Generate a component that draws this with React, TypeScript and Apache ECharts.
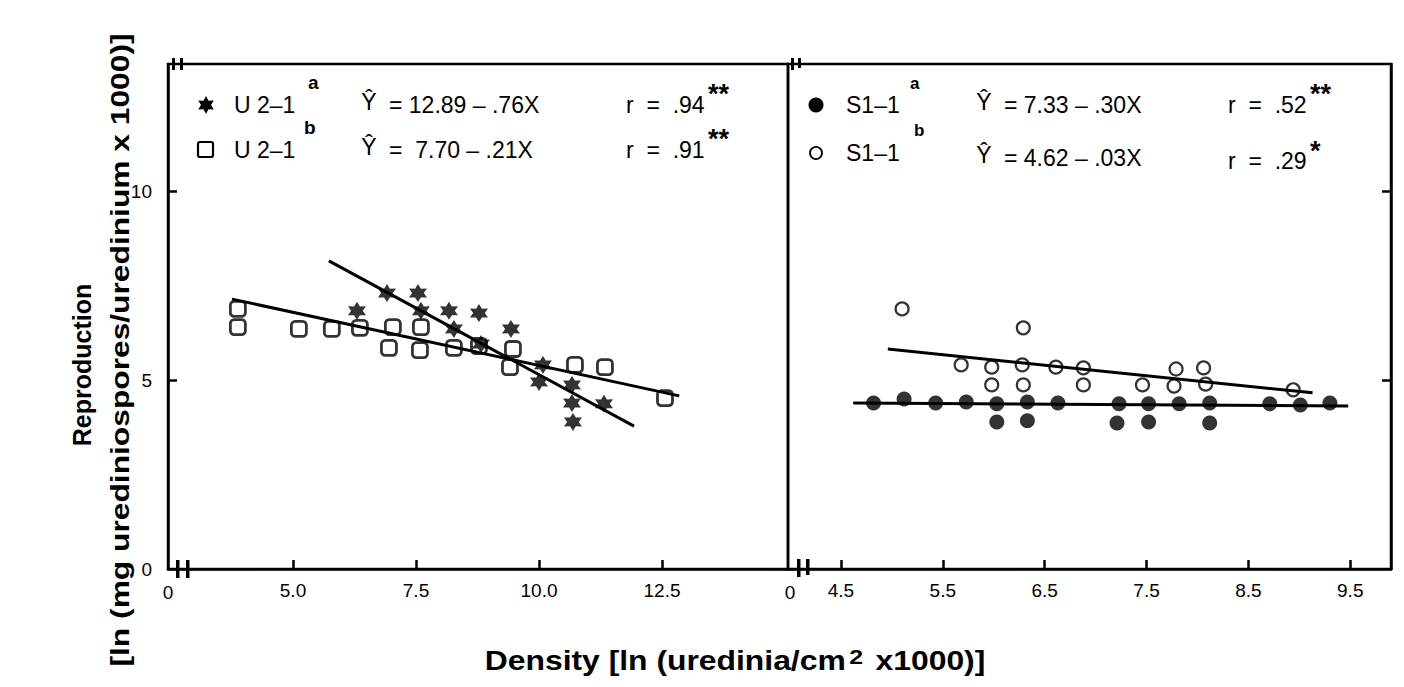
import React, { useEffect, useRef } from "react";
import * as echarts from "echarts";

// ---- axis ticks / labels ----
const leftXTicks = [5, 7.5, 10, 12.5];
const rightXTicks = [4.5, 5.5, 6.5, 7.5, 8.5, 9.5];
const yTickValues = [5, 10];
const yLabelValues = [0, 5, 10];

// ---- left panel: U 2-1 a (stars) ----
const u21aX = [6.3, 6.91, 7.54, 7.6, 8.17, 8.78, 8.27, 8.82, 9.43, 10.08, 10.0, 10.67, 10.67, 10.69, 11.32];
const u21aY = [6.83, 7.3, 7.3, 6.83, 6.83, 6.77, 6.35, 5.95, 6.35, 5.4, 4.95, 4.87, 4.39, 3.89, 4.37];
// ---- left panel: U 2-1 b (open squares) ----
const u21bX = [3.88, 3.88, 5.12, 5.79, 6.36, 7.03, 7.6, 6.95, 7.58, 8.27, 8.78, 9.47, 9.41, 10.73, 11.34, 12.56];
const u21bY = [6.88, 6.4, 6.35, 6.35, 6.38, 6.4, 6.4, 5.85, 5.79, 5.85, 5.9, 5.82, 5.34, 5.4, 5.34, 4.52];
// fitted lines (end points)
const u21aFitX = [5.73, 11.93];
const u21aFitY = [8.15, 3.78];
const u21bFitX = [3.76, 12.85];
const u21bFitY = [7.14, 4.58];

// ---- right panel: S1-1 a (filled circles) ----
const s11aX = [4.82, 5.12, 5.43, 5.73, 6.03, 6.33, 6.63, 7.23, 7.52, 7.82, 8.12, 8.71, 9.01, 9.3, 6.03, 6.33, 7.21, 7.52, 8.12];
const s11aY = [4.39, 4.5, 4.39, 4.42, 4.37, 4.42, 4.39, 4.37, 4.37, 4.37, 4.39, 4.37, 4.34, 4.39, 3.89, 3.92, 3.86, 3.89, 3.86];
// ---- right panel: S1-1 b (open circles) ----
const s11bX = [5.1, 6.29, 5.68, 5.98, 6.28, 6.61, 6.88, 5.98, 6.29, 6.88, 7.46, 7.79, 8.06, 7.77, 8.08, 8.94];
const s11bY = [6.88, 6.38, 5.4, 5.34, 5.4, 5.34, 5.32, 4.87, 4.87, 4.87, 4.87, 5.29, 5.32, 4.84, 4.89, 4.74];
const s11aFitX = [4.62, 9.48];
const s11aFitY = [4.39, 4.31];
const s11bFitX = [4.96, 9.13];
const s11bFitY = [5.82, 4.66];

const zip = (xs: number[], ys: number[]) => xs.map((x, i) => [x, ys[i]]);

function starPoints(cx: number, cy: number, R: number, r: number): number[][] {
  const pts: number[][] = [];
  for (let i = 0; i < 12; i++) {
    const a = -Math.PI / 2 + (i * Math.PI) / 6;
    const rad = i % 2 === 0 ? R : r;
    pts.push([cx + rad * Math.cos(a), cy + rad * Math.sin(a)]);
  }
  return pts;
}
const starPath =
  "path://" +
  starPoints(10, 10, 10, 5.6)
    .map((p, i) => (i === 0 ? "M" : "L") + p[0].toFixed(2) + " " + p[1].toFixed(2))
    .join(" ") +
  " Z";

const FONT = "Liberation Sans";
const G = { left: 168, top: 64, h: 505, lw: 620, rw: 603 };

export default function App() {
  const ref = useRef<HTMLDivElement>(null);
  useEffect(() => {
    if (!ref.current) return;
    const chart = echarts.init(ref.current, null, { renderer: "svg" });
    const black = "#000";
    const txt = (text: string, x: number, y: number, size = 23, extra: any = {}) => ({
      type: "text",
      x,
      y,
      style: { text, fill: black, font: `${extra.weight || "normal"} ${size}px "${FONT}"`, textAlign: extra.align || "left", textVerticalAlign: "middle" },
      ...(extra.rotation !== undefined ? { rotation: extra.rotation } : {}),
      ...(extra.scaleX !== undefined ? { scaleX: extra.scaleX } : {}),
    });
    const bar = (x: number, y: number, w: number, h: number) => ({
      type: "rect",
      shape: { x, y, width: w, height: h },
      style: { fill: black },
    });

    const L1 = 105, L2 = 150, R1 = 105, R2 = 158;
    const graphics: any[] = [
      // legend left
      { type: "polygon", shape: { points: starPoints(206, L1, 9, 5) }, style: { fill: black } },
      txt("U 2\u20131", 234, L1),
      txt("a", 308, L1 - 23, 19, { weight: "bold" }),
      txt("\u0176", 369, L1 - 3, 23, { align: "center" }),
      txt("= 12.89 \u2013 .76X", 389, L1),
      txt("r  =  .94", 626, L1),
      txt("**", 708, L1 - 11, 27, { weight: "bold" }),
      { type: "rect", shape: { x: 198, y: L2 - 8, width: 15, height: 15, r: 2 }, style: { fill: "none", stroke: black, lineWidth: 2.2 } },
      txt("U 2\u20131", 234, L2),
      txt("b", 304, L2 - 23, 19, { weight: "bold" }),
      txt("\u0176", 369, L2 - 3, 23, { align: "center" }),
      txt("=  7.70 \u2013 .21X", 389, L2),
      txt("r  =  .91", 626, L2),
      txt("**", 708, L2 - 11, 27, { weight: "bold" }),
      // legend right
      { type: "circle", shape: { cx: 816, cy: R1, r: 7.5 }, style: { fill: black } },
      txt("S1\u20131", 846, R1),
      txt("a", 910, R1 - 22, 17, { weight: "bold" }),
      txt("\u0176", 984, R1 - 3, 23, { align: "center" }),
      txt("= 7.33 \u2013 .30X", 1004, R1),
      txt("r  =  .52", 1228, R1),
      txt("**", 1310, R1 - 11, 27, { weight: "bold" }),
      { type: "circle", shape: { cx: 816, cy: R2 - 5, r: 6 }, style: { fill: "none", stroke: black, lineWidth: 1.8 } },
      txt("S1\u20131", 846, R2 - 5),
      txt("b", 914, R2 - 28, 17, { weight: "bold" }),
      txt("\u0176", 984, R2 - 3, 23, { align: "center" }),
      txt("= 4.62 \u2013 .03X", 1004, R2),
      txt("r  =  .29", 1228, R2 + 3),
      txt("*", 1310, R2 - 7, 27, { weight: "bold" }),
      // axis-break "0" labels
      txt("0", 168, 592, 19, { align: "center" }),
      txt("0", 790, 592, 19, { align: "center" }),
      // break marks
      bar(176, 560, 3.5, 18), bar(186, 560, 3.5, 18),
      bar(797, 559, 3.5, 18), bar(806, 559, 3.5, 16),
      bar(172, 58, 3, 12), bar(180, 58, 3, 12),
      bar(791, 58, 3, 12), bar(798, 58, 3, 10),
      // axis titles
      {
        type: "text",
        x: 735,
        y: 660,
        scaleX: 1.18,
        style: {
          text: "{a|Density [ln (uredinia/cm}{s|2}{a| x1000)]}",
          textAlign: "center",
          textVerticalAlign: "middle",
          fill: black,
          rich: {
            a: { fontSize: 27, fontWeight: "bold", fontFamily: FONT, fill: black },
            s: { fontSize: 21, fontWeight: "bold", fontFamily: FONT, fill: black, verticalAlign: "top", padding: [0, 3, 0, 3] },
          },
        },
      },
      txt("Reproduction", 82, 365, 25, { weight: "bold", align: "center", rotation: Math.PI / 2, scaleX: 1.0 }),
      txt("[ln (mg urediniospores/uredinium x 1000)]", 120, 350, 25, { weight: "bold", align: "center", rotation: Math.PI / 2, scaleX: 1.27 }),
    ];

    const axisLine = { show: true, lineStyle: { color: black, width: 2.5 } };
    const tick = (vals: number[]) => ({ show: true, inside: true, length: 9, customValues: vals, lineStyle: { color: black, width: 2.5 } });
    const line = (xs: number[], ys: number[], xi: number) => ({
      type: "line",
      xAxisIndex: xi,
      yAxisIndex: xi,
      data: zip(xs, ys),
      showSymbol: false,
      symbol: "none",
      lineStyle: { color: black, width: 3 },
      z: 2,
    });

    chart.setOption({
      animation: false,
      backgroundColor: "#fff",
      grid: [
        { left: G.left, top: G.top, width: G.lw, height: G.h, show: true, borderColor: black, borderWidth: 2.5, backgroundColor: "transparent" },
        { left: G.left + G.lw, top: G.top, width: G.rw, height: G.h, show: true, borderColor: black, borderWidth: 2.5, backgroundColor: "transparent" },
      ],
      xAxis: [
        {
          type: "value", gridIndex: 0, min: 2.46, max: 15.06,
          axisLine, axisTick: tick(leftXTicks), splitLine: { show: false },
          axisLabel: { customValues: leftXTicks, formatter: (v: number) => v.toFixed(1), color: black, fontSize: 19, fontFamily: FONT, margin: 12 },
        },
        {
          type: "value", gridIndex: 1, min: 3.98, max: 9.9,
          axisLine, axisTick: tick(rightXTicks), splitLine: { show: false },
          axisLabel: { customValues: rightXTicks, formatter: (v: number) => v.toFixed(1), color: black, fontSize: 19, fontFamily: FONT, margin: 12 },
        },
      ],
      yAxis: [
        {
          type: "value", gridIndex: 0, min: 0, max: 13.36,
          axisLine, axisTick: tick(yTickValues), splitLine: { show: false },
          axisLabel: { customValues: yLabelValues, color: black, fontSize: 19, fontFamily: FONT, margin: 16 },
        },
        {
          type: "value", gridIndex: 1, min: 0, max: 13.36, position: "right",
          axisLine, axisTick: tick(yTickValues), splitLine: { show: false },
          axisLabel: { show: false },
        },
      ],
      series: [
        line(u21aFitX, u21aFitY, 0),
        line(u21bFitX, u21bFitY, 0),
        {
          name: "U 2-1 a", type: "scatter", xAxisIndex: 0, yAxisIndex: 0, data: zip(u21aX, u21aY),
          symbol: starPath, symbolSize: 18, itemStyle: { color: black }, z: 3,
        },
        {
          name: "U 2-1 b", type: "scatter", xAxisIndex: 0, yAxisIndex: 0, data: zip(u21bX, u21bY),
          symbol: "roundRect", symbolSize: 15, itemStyle: { color: "rgba(0,0,0,0)", borderColor: black, borderWidth: 2.8 }, z: 3,
        },
        line(s11aFitX, s11aFitY, 1),
        line(s11bFitX, s11bFitY, 1),
        {
          name: "S1-1 a", type: "scatter", xAxisIndex: 1, yAxisIndex: 1, data: zip(s11aX, s11aY),
          symbol: "circle", symbolSize: 15, itemStyle: { color: black }, z: 3,
        },
        {
          name: "S1-1 b", type: "scatter", xAxisIndex: 1, yAxisIndex: 1, data: zip(s11bX, s11bY),
          symbol: "circle", symbolSize: 13, itemStyle: { color: "rgba(0,0,0,0)", borderColor: black, borderWidth: 2.2 }, z: 3,
        },
      ],
      graphic: graphics,
    });
    return () => chart.dispose();
  }, []);
  return <div ref={ref} style={{ position: "fixed", left: 0, top: 0, width: 1404, height: 687, background: "#fff" }} />;
}
